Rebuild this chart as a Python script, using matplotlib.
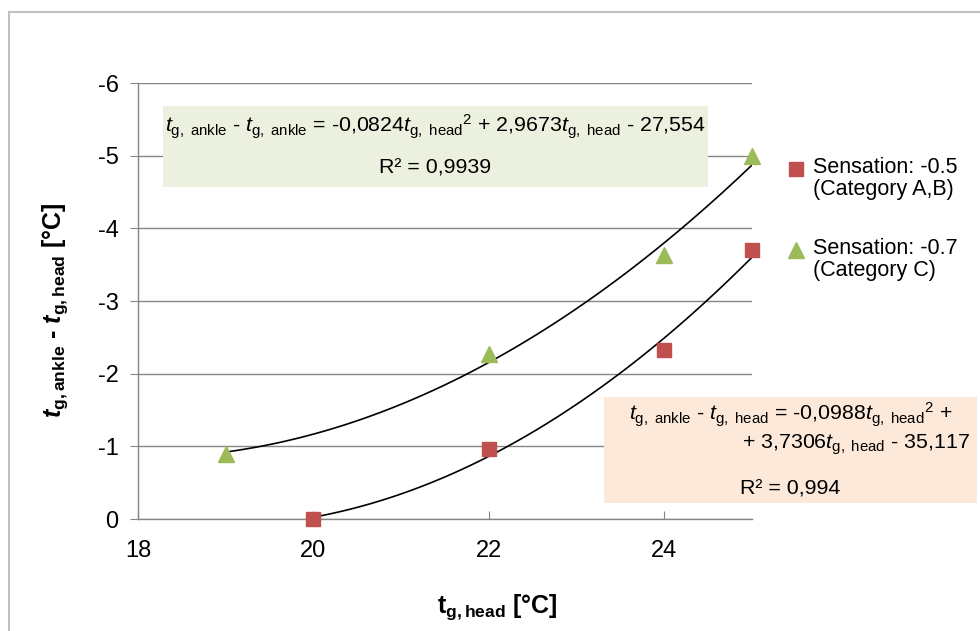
import matplotlib.pyplot as plt
import numpy as np
from matplotlib.patches import Rectangle
from matplotlib.lines import Line2D

plt.rcParams['font.family'] = 'Liberation Sans'
plt.rcParams['mathtext.fontset'] = 'custom'
plt.rcParams['mathtext.rm'] = 'Liberation Sans'
plt.rcParams['mathtext.it'] = 'Liberation Sans:italic'
plt.rcParams['mathtext.bf'] = 'Liberation Sans:bold'
plt.rcParams['mathtext.bfit'] = 'Liberation Sans:bold:italic'

# Daten
t_head_ab = [20, 22, 24, 25]
diff_ab = [0.0, -0.97, -2.33, -3.70]
t_head_c = [19, 22, 24, 25]
diff_c = [-0.90, -2.27, -3.63, -5.00]

# Trendlinien-Koeffizienten (aus den Gleichungen)
coef_ab = [-0.0988, 3.7306, -35.117]
coef_c = [-0.0824, 2.9673, -27.554]

labels = ['Sensation: -0.5\n(Category A,B)', 'Sensation: -0.7\n(Category C)']

W, H = 980, 631

def px(x, y):
    # Pixel -> Figure-Koordinaten
    return x / W, 1 - y / H

fig = plt.figure(figsize=(W / 100, H / 100), dpi=100)
ax = fig.add_axes([138 / W, 1 - 519 / H, 614 / W, 436 / H])

# Rahmen
fig.add_artist(Line2D([9 / W, 9 / W], [0, 1 - 12 / H], transform=fig.transFigure, color='#c0c0c0', lw=1.5))
fig.add_artist(Line2D([9 / W, 1], [1 - 12 / H, 1 - 12 / H], transform=fig.transFigure, color='#c0c0c0', lw=1.5))

gray = '#868686'
ax.set_xlim(18, 25)
ax.set_ylim(0, -6)
ax.set_xticks([18, 20, 22, 24])
ax.set_yticks(range(0, -7, -1))
ax.set_yticklabels(['0', '-1', '-2', '-3', '-4', '-5', '-6'])
ax.set_axisbelow(True)
ax.grid(axis='y', color=gray, lw=1)
for s in ['top', 'right']:
    ax.spines[s].set_visible(False)
for s in ['left', 'bottom']:
    ax.spines[s].set_color(gray)
    ax.spines[s].set_linewidth(1)
ax.tick_params(axis='y', direction='out', length=6, color=gray, labelsize=17, pad=8)
ax.tick_params(axis='x', direction='in', length=6, color=gray, labelsize=17, pad=15)

# Trendlinien
xs = np.linspace(min(t_head_ab), max(t_head_ab), 100)
ax.plot(xs, np.polyval(coef_ab, xs), color='black', lw=1.2, zorder=2)
xs = np.linspace(min(t_head_c), max(t_head_c), 100)
ax.plot(xs, np.polyval(coef_c, xs), color='black', lw=1.2, zorder=2)

red = '#c0504d'
green = '#9bbb59'
ax.plot(t_head_ab, diff_ab, 's', color=red, ms=10, clip_on=False, zorder=3)
ax.plot(t_head_c, diff_c, '^', color=green, ms=11, clip_on=False, zorder=3)

# Legende (manuell, Marker auf Höhe der ersten Zeile)
for (mk, col, ms, lab, yy) in [('s', red, 10, labels[0], 169), ('^', green, 11, labels[1], 250)]:
    fig.add_artist(Line2D([796 / W], [1 - yy / H], marker=mk, color=col, ms=ms, ls='none',
                          transform=fig.transFigure))
    fig.text(813 / W, 1 - (yy - 12) / H, lab, ha='left', va='top', fontsize=15.5, linespacing=1.05)

# Achsenbeschriftungen
ax.set_xlabel(r'$\mathbf{t}_{\mathbf{g,head}}$ [°C]', fontsize=18, fontweight='bold')
ax.xaxis.set_label_coords((497 - 138) / 614, -(592 - 519) / 436)
ax.set_ylabel(r'$\mathbfit{t}_{\mathbf{g,ankle}}$ - $\mathbfit{t}_{\mathbf{g,head}}$ [°C]',
              fontsize=18, fontweight='bold')
ax.yaxis.set_label_coords(-(138 - 70) / 614, (519 - 310) / 436)

# Gleichungsboxen
x0, y0 = px(163, 187)
x1, y1 = px(708, 106)
ax.add_patch(Rectangle((x0, y0), x1 - x0, y1 - y0, transform=fig.transFigure, facecolor='#ebf1de',
                       edgecolor='none', clip_on=False, zorder=1))
x0, y0 = px(604, 503)
x1, y1 = px(977, 397)
ax.add_patch(Rectangle((x0, y0), x1 - x0, y1 - y0, transform=fig.transFigure, facecolor='#fde9d9',
                       edgecolor='none', clip_on=False, zorder=1))

sub_a = r'$t_{\mathrm{g,\ ankle}}$'
sub_h = r'$t_{\mathrm{g,\ head}}$'
fs = 15.4
fig.text(*px(435, 127), sub_a + ' - ' + sub_a + ' = -0,0824' + sub_h + r'${}^{2}$ + 2,9673' + sub_h + ' - 27,554',
         ha='center', va='center', fontsize=fs)
fig.text(*px(435, 168), 'R² = 0,9939', ha='center', va='center', fontsize=fs)
fig.text(*px(791, 415), sub_a + ' - ' + sub_h + ' = -0,0988' + sub_h + r'${}^{2}$ +',
         ha='center', va='center', fontsize=fs)
fig.text(*px(970, 445), '+ 3,7306' + sub_h + ' - 35,117', ha='right', va='center', fontsize=fs)
fig.text(*px(790, 489), 'R² = 0,994', ha='center', va='center', fontsize=fs)

plt.savefig('out.png', dpi=100)
